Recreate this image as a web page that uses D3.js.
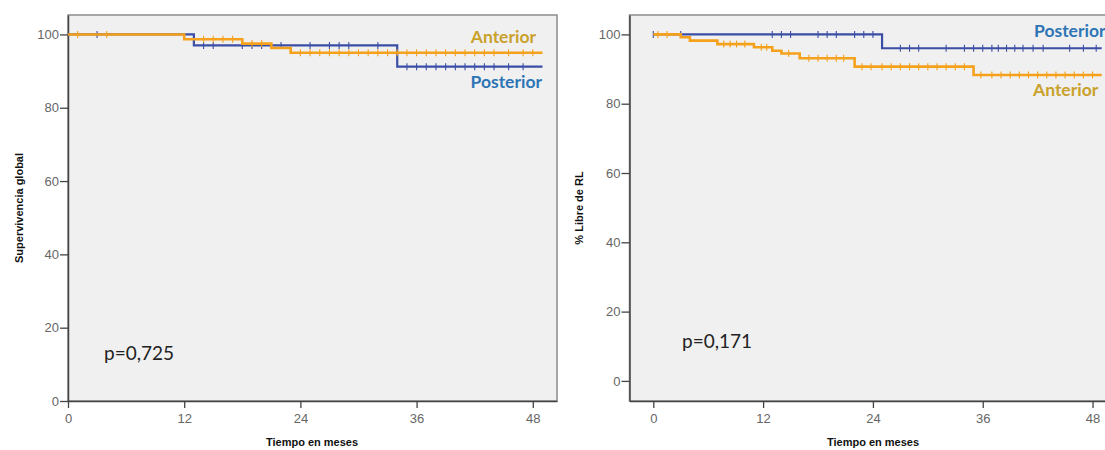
<!DOCTYPE html>
<html>
<head>
<meta charset="utf-8">
<script src="https://cdn.jsdelivr.net/npm/d3@7"></script>
<style>
  body { margin: 0; background: #fff; }
  .tick text { fill: #666; font-family: "Liberation Sans", Arial, sans-serif; font-size: 13px; }
  .tick line { stroke: #444; stroke-width: 1.3; }
  .domain { stroke: #444; stroke-width: 1.5; }
  .axis-title { font-family: "Liberation Sans", Arial, sans-serif; font-size: 11px; font-weight: bold; fill: #111; }
  .pval { font-family: Lato, "Open Sans", sans-serif; font-size: 19px; fill: #222; }
  .grp { font-family: Lato, "Open Sans", sans-serif; font-size: 17.5px; font-weight: bold; }
</style>
</head>
<body>
<div id="vis"></div>
<script>
// frame constants
const FRAME_WIDTH = 1105;
const FRAME_HEIGHT = 450;

// tick labels
const X_TICKS = [0, 12, 24, 36, 48];
const Y_TICKS = [0, 20, 40, 60, 80, 100];

// left chart: supervivencia global
// step times (months) and survival (%) after each step
const OS_ANT_T = [0, 12, 18, 21, 23];
const OS_ANT_S = [100, 98.7, 97.5, 96.3, 95.0];
const OS_ANT_CENS = [1, 4, 14, 15, 16, 17, 19, 20, 24, 25, 26, 27, 28, 29, 30, 31, 32, 33, 34,
                     35, 36, 37, 38, 39, 40, 41, 42, 43, 44, 45.5, 47, 48];
const OS_POST_T = [0, 13, 34];
const OS_POST_S = [100, 97.0, 91.2];
const OS_POST_CENS = [3, 14, 15, 18, 19, 20, 22, 25, 27, 28, 29, 32,
                      35, 36, 37, 38, 39, 40, 41, 42, 43, 44, 45.5, 47];
const OS_END = 49;

// right chart: % libre de RL
const RL_ANT_T = [0, 3, 4, 7, 11, 13, 14, 16, 22, 35];
const RL_ANT_S = [100, 99.2, 98.2, 97.2, 96.3, 95.3, 94.5, 93.1, 90.7, 88.3];
const RL_ANT_CENS = [0.5, 1.5, 7.7, 8.4, 9.1, 10, 11.8, 12.4, 14.8, 17, 18, 19, 20, 20.8,
                     22.8, 23.8, 25, 26, 27, 28, 29, 30, 31, 32, 33, 34,
                     35.8, 37, 38, 39, 40, 41, 42, 43, 44, 45, 46, 47, 48];
const RL_POST_T = [0, 25];
const RL_POST_S = [100, 96.0];
const RL_POST_CENS = [0, 3, 13, 14, 15, 18, 19, 20, 22, 23, 24, 27, 28, 29, 32, 34, 35, 36,
                      37, 37.7, 38.6, 39.5, 40.4, 41.5, 42.6, 45.5, 47, 48.4];
const RL_END = 49;

const COLOR_ANT = "#F5A11C";
const COLOR_POST = "#3B4EA6";
const TEXT_ANT = "#C9A12B";
const TEXT_POST = "#2E75B6";

const SVG = d3.select("#vis")
              .append("svg")
                .attr("width", FRAME_WIDTH)
                .attr("height", FRAME_HEIGHT);

// value of a step curve at time t
function survAt(times, surv, t) {
    let v = surv[0];
    for (let i = 0; i < times.length; i++) {
        if (times[i] <= t) { v = surv[i]; }
    }
    return v;
}

function drawPanel(p) {
    const X_SCALE = d3.scaleLinear().domain(p.xDomain).range(p.xRange);
    const Y_SCALE = d3.scaleLinear().domain(p.yDomain).range(p.yRange);

    const g = SVG.append("g");

    // plot background + frame
    g.append("rect")
        .attr("x", p.xRange[0])
        .attr("y", p.yRange[1])
        .attr("width", p.xRange[1] - p.xRange[0])
        .attr("height", p.yRange[0] - p.yRange[1])
        .attr("fill", "#F0F0F0")
        .attr("stroke", "#8c8c8c")
        .attr("stroke-width", 1.5);

    // axes
    g.append("g")
        .attr("transform", "translate(0," + p.yRange[0] + ")")
        .call(d3.axisBottom(X_SCALE).tickValues(X_TICKS).tickSize(7).tickSizeOuter(0).tickPadding(6));

    g.append("g")
        .attr("transform", "translate(" + p.xRange[0] + ",0)")
        .call(d3.axisLeft(Y_SCALE).tickValues(Y_TICKS).tickSize(8).tickSizeOuter(0).tickPadding(1));

    // curves, blue first so orange lies on top
    const LINE = d3.line()
                    .x((d) => { return X_SCALE(d[0]); })
                    .y((d) => { return Y_SCALE(d[1]); })
                    .curve(d3.curveStepAfter);

    p.series.forEach((s) => {
        const pts = s.t.map((t, i) => { return [t, s.s[i]]; });
        pts.push([p.end, s.s[s.s.length - 1]]);

        g.append("path")
            .datum(pts)
            .attr("d", LINE)
            .attr("fill", "none")
            .attr("stroke", s.color)
            .attr("stroke-width", s.width);

        // censor marks
        g.append("g")
            .selectAll("line")
            .data(s.cens)
            .enter()
            .append("line")
              .attr("x1", (d) => { return X_SCALE(d); })
              .attr("x2", (d) => { return X_SCALE(d); })
              .attr("y1", (d) => { return Y_SCALE(survAt(s.t, s.s, d)) - 3.5; })
              .attr("y2", (d) => { return Y_SCALE(survAt(s.t, s.s, d)) + 3.5; })
              .attr("stroke", s.color)
              .attr("stroke-width", 1.1);
    });

    // axis titles
    g.append("text")
        .attr("class", "axis-title")
        .attr("x", p.xTitleX)
        .attr("y", 446)
        .attr("text-anchor", "middle")
        .text("Tiempo en meses");

    g.append("text")
        .attr("class", "axis-title")
        .attr("transform", "translate(" + p.yTitleX + "," + 208 + ") rotate(-90)")
        .attr("text-anchor", "middle")
        .text(p.yTitle);

    // p value
    g.append("text")
        .attr("class", "pval")
        .attr("x", p.pX)
        .attr("y", p.pY)
        .text(p.pText);

    // group labels
    p.labels.forEach((l) => {
        g.append("text")
            .attr("class", "grp")
            .attr("x", l.x)
            .attr("y", l.y)
            .attr("text-anchor", l.anchor)
            .attr("fill", l.color)
            .text(l.text);
    });
}

drawPanel({
    xDomain: [0, 50.5], xRange: [68, 557],
    yDomain: [0, 105.3], yRange: [401, 15],
    end: OS_END,
    series: [
        {t: OS_POST_T, s: OS_POST_S, cens: OS_POST_CENS, color: COLOR_POST, width: 2.2},
        {t: OS_ANT_T, s: OS_ANT_S, cens: OS_ANT_CENS, color: COLOR_ANT, width: 2.6}
    ],
    xTitleX: 312, yTitleX: 23, yTitle: "Supervivencia global",
    pX: 104, pY: 360, pText: "p=0,725",
    labels: [
        {text: "Anterior", x: 536, y: 43, anchor: "end", color: TEXT_ANT},
        {text: "Posterior", x: 542, y: 88, anchor: "end", color: TEXT_POST}
    ]
});

drawPanel({
    xDomain: [-2.6, 51.0], xRange: [629.5, 1120],
    yDomain: [-5.8, 105.6], yRange: [401, 15],
    end: RL_END,
    series: [
        {t: RL_POST_T, s: RL_POST_S, cens: RL_POST_CENS, color: COLOR_POST, width: 2.2},
        {t: RL_ANT_T, s: RL_ANT_S, cens: RL_ANT_CENS, color: COLOR_ANT, width: 2.6}
    ],
    xTitleX: 873, yTitleX: 583, yTitle: "% Libre de RL",
    pX: 682, pY: 348, pText: "p=0,171",
    labels: [
        {text: "Posterior", x: 1034, y: 37, anchor: "start", color: TEXT_POST},
        {text: "Anterior", x: 1033, y: 96, anchor: "start", color: TEXT_ANT}
    ]
});
</script>
</body>
</html>
